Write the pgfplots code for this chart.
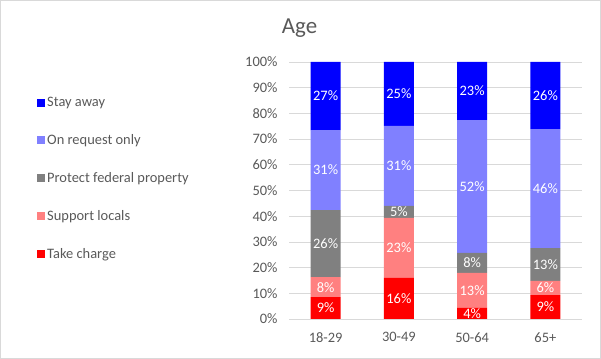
\documentclass[border=0pt]{standalone}
\usepackage{fontspec}
\setmainfont{Carlito}
\usepackage{pgfplots}
\pgfplotsset{compat=1.18}
\usepackage{pgfplotstable}

\definecolor{cStay}{RGB}{0,0,255}
\definecolor{cReq}{RGB}{128,128,255}
\definecolor{cProt}{RGB}{128,128,128}
\definecolor{cSup}{RGB}{255,128,128}
\definecolor{cTake}{RGB}{255,0,0}
\definecolor{txt}{RGB}{89,89,89}
\definecolor{gridc}{RGB}{217,217,217}

\pgfplotstableread{
x take sup prot req stay
0 8.5 7.8 26.1 31.1 26.5
1 16.0 23.3 4.7 31.1 24.9
2 4.3 13.6 7.8 51.7 22.6
3 9.3 5.5 12.8 46.3 26.1
}\shares

\pgfplotstableread{
x y l
0 4.25 9
0 12.4 8
0 29.35 26
0 57.95 31
0 86.75 27
1 8.0 16
1 27.65 23
1 41.65 5
1 59.55 31
1 87.55 25
2 2.15 4
2 11.1 13
2 21.8 8
2 51.55 52
2 88.7 23
3 4.65 9
3 12.05 6
3 21.2 13
3 50.75 46
3 86.95 26
}\labels

\pgfplotsset{common/.style={at={(289bp,40bp)}, anchor=south west, scale only axis,
  width=293bp, height=257bp, xmin=-0.5, xmax=3.5, ymin=0, ymax=100}}

\begin{document}
\begin{tikzpicture}
\begin{axis}[common,
  ybar stacked, bar width=30bp,
  legend image code/.code={\fill[#1] (0bp,-4bp) rectangle (8bp,4bp);},
  axis line style={draw=none},
  major tick length=0pt,
  ymajorgrids, grid style={gridc, line width=0.75bp},
  ytick={0,10,...,100},
  yticklabels={0\%,10\%,20\%,30\%,40\%,50\%,60\%,70\%,80\%,90\%,100\%},
  xtick={0,1,2,3},
  xticklabels={18-29,30-49,50-64,65+},
  ticklabel style={font=\fontsize{14.5}{17}\selectfont, text=txt},
  yticklabel style={xshift=-8bp},
  xticklabel style={yshift=-10bp},
  title=Age,
  title style={at={(axis description cs:0.036,1.105)}, anchor=base, yshift=-4bp, font=\fontsize{23}{27}\selectfont, text=txt},
  reverse legend,
  legend cell align=left,
  legend style={at={(axis description cs:-0.86,0.872)}, anchor=north west, draw=none, fill=none,
    font=\fontsize{14.5}{17}\selectfont, text=txt, row sep=22.5bp, inner sep=0pt,
    nodes={inner sep=2bp}},
]
\addplot[fill=cTake, draw=none] table[x=x,y=take]{\shares};
\addlegendentry{Take charge}
\addplot[fill=cSup, draw=none] table[x=x,y=sup]{\shares};
\addlegendentry{Support locals}
\addplot[fill=cProt, draw=none] table[x=x,y=prot]{\shares};
\addlegendentry{Protect federal property}
\addplot[fill=cReq, draw=none] table[x=x,y=req]{\shares};
\addlegendentry{On request only}
\addplot[fill=cStay, draw=none] table[x=x,y=stay]{\shares};
\addlegendentry{Stay away}
\end{axis}
\begin{axis}[common, hide axis]
\addplot[draw=none, mark=none, nodes near coords={\pgfplotspointmeta\%}, point meta=explicit symbolic,
  every node near coord/.append style={anchor=center, text=white, font=\fontsize{14.5}{17}\selectfont}]
  table[x=x,y=y,meta=l]{\labels};
\end{axis}
\draw[gridc, line width=1bp] (0.5bp,0.5bp) rectangle (600.5bp,358.5bp);
\pgfresetboundingbox
\useasboundingbox (0,0) rectangle (601bp,359bp);
\end{tikzpicture}
\end{document}
